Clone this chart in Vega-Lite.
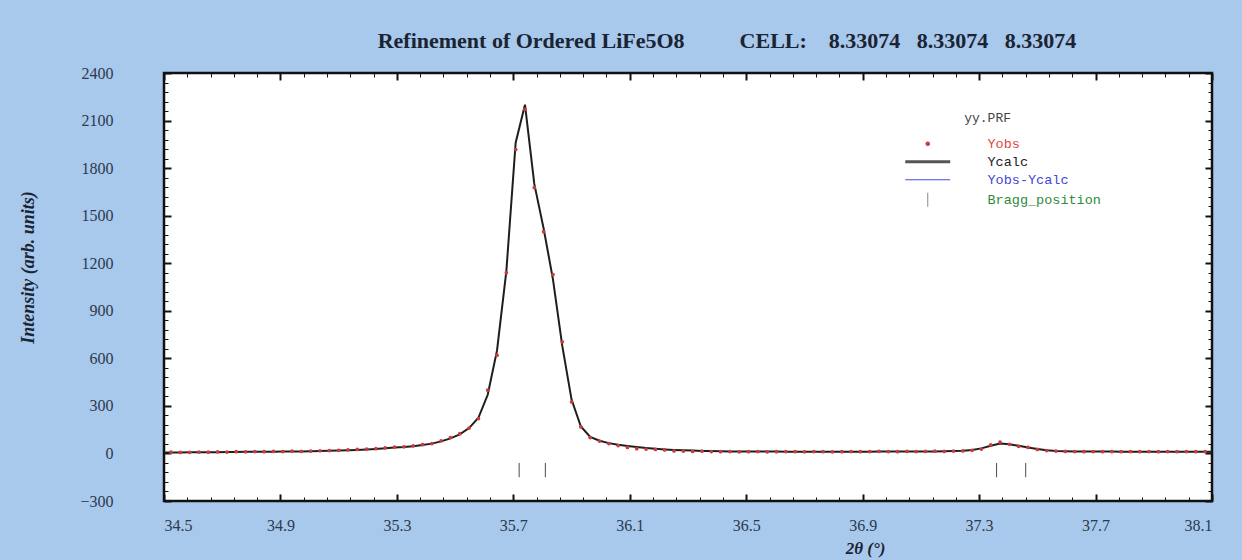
{
  "$schema": "https://vega.github.io/schema/vega-lite/v6.json",
  "width": 1048,
  "height": 428,
  "autosize": {"type": "none"},
  "padding": {"left": 164, "top": 73, "right": 30, "bottom": 59},
  "background": "#a8c8ec",
  "title": {
    "text": "Refinement of Ordered LiFe5O8\u00a0\u00a0\u00a0\u00a0\u00a0\u00a0\u00a0\u00a0\u00a0\u00a0CELL:\u00a0\u00a0\u00a0\u00a08.33074\u00a0\u00a0\u00a08.33074\u00a0\u00a0\u00a08.33074",
    "font": "Liberation Serif",
    "fontSize": 22,
    "fontWeight": "bold",
    "color": "#1a2433",
    "anchor": "middle",
    "frame": "group",
    "baseline": "alphabetic",
    "dx": 39,
    "dy": 27,
    "offset": 22
  },
  "datasets": {
    "profile": [
      {"x": 34.5, "obs": null, "calc": 6},
      {"x": 34.524, "obs": 8, "calc": 6},
      {"x": 34.556, "obs": 6, "calc": 6},
      {"x": 34.588, "obs": 7, "calc": 7},
      {"x": 34.62, "obs": 9, "calc": 7},
      {"x": 34.652, "obs": 8, "calc": 8},
      {"x": 34.684, "obs": 10, "calc": 8},
      {"x": 34.716, "obs": 9, "calc": 9},
      {"x": 34.748, "obs": 11, "calc": 9},
      {"x": 34.78, "obs": 10, "calc": 10},
      {"x": 34.812, "obs": 12, "calc": 10},
      {"x": 34.844, "obs": 11, "calc": 11},
      {"x": 34.876, "obs": 13, "calc": 11},
      {"x": 34.908, "obs": 12, "calc": 12},
      {"x": 34.94, "obs": 14, "calc": 13},
      {"x": 34.972, "obs": 13, "calc": 13},
      {"x": 35.004, "obs": 15, "calc": 14},
      {"x": 35.036, "obs": 17, "calc": 15},
      {"x": 35.068, "obs": 18, "calc": 17},
      {"x": 35.1, "obs": 20, "calc": 18},
      {"x": 35.132, "obs": 23, "calc": 20},
      {"x": 35.164, "obs": 25, "calc": 22},
      {"x": 35.196, "obs": 27, "calc": 25},
      {"x": 35.228, "obs": 30, "calc": 28},
      {"x": 35.26, "obs": 35, "calc": 32},
      {"x": 35.292, "obs": 40, "calc": 37},
      {"x": 35.324, "obs": 42, "calc": 40},
      {"x": 35.356, "obs": 48, "calc": 46},
      {"x": 35.388, "obs": 55, "calc": 53},
      {"x": 35.42, "obs": 62, "calc": 62},
      {"x": 35.452, "obs": 80, "calc": 76},
      {"x": 35.484, "obs": 100, "calc": 95},
      {"x": 35.516, "obs": 125, "calc": 120},
      {"x": 35.548, "obs": 160, "calc": 160},
      {"x": 35.58, "obs": 220, "calc": 225},
      {"x": 35.612, "obs": 400, "calc": 370},
      {"x": 35.644, "obs": 620, "calc": 650},
      {"x": 35.676, "obs": 1140, "calc": 1150},
      {"x": 35.708, "obs": 1917, "calc": 1960},
      {"x": 35.74, "obs": 2170, "calc": 2200},
      {"x": 35.772, "obs": 1677, "calc": 1700},
      {"x": 35.804, "obs": 1399, "calc": 1420},
      {"x": 35.836, "obs": 1128, "calc": 1100},
      {"x": 35.868, "obs": 704, "calc": 680},
      {"x": 35.9, "obs": 325, "calc": 340},
      {"x": 35.932, "obs": 167, "calc": 170},
      {"x": 35.964, "obs": 100, "calc": 105},
      {"x": 35.996, "obs": 78, "calc": 80},
      {"x": 36.028, "obs": 62, "calc": 65},
      {"x": 36.06, "obs": 50, "calc": 55},
      {"x": 36.092, "obs": 38, "calc": 47},
      {"x": 36.124, "obs": 30, "calc": 40},
      {"x": 36.156, "obs": 28, "calc": 34},
      {"x": 36.188, "obs": 25, "calc": 29},
      {"x": 36.22, "obs": 22, "calc": 25},
      {"x": 36.252, "obs": 16, "calc": 22},
      {"x": 36.284, "obs": 15, "calc": 20},
      {"x": 36.316, "obs": 13, "calc": 18},
      {"x": 36.348, "obs": 14, "calc": 16},
      {"x": 36.38, "obs": 12, "calc": 15},
      {"x": 36.412, "obs": 11, "calc": 14},
      {"x": 36.444, "obs": 12, "calc": 13},
      {"x": 36.476, "obs": 10, "calc": 13},
      {"x": 36.508, "obs": 11, "calc": 12},
      {"x": 36.54, "obs": 12, "calc": 12},
      {"x": 36.572, "obs": 10, "calc": 12},
      {"x": 36.604, "obs": 11, "calc": 12},
      {"x": 36.636, "obs": 12, "calc": 11},
      {"x": 36.668, "obs": 11, "calc": 11},
      {"x": 36.7, "obs": 10, "calc": 11},
      {"x": 36.732, "obs": 12, "calc": 11},
      {"x": 36.764, "obs": 11, "calc": 11},
      {"x": 36.796, "obs": 10, "calc": 11},
      {"x": 36.828, "obs": 11, "calc": 11},
      {"x": 36.86, "obs": 12, "calc": 11},
      {"x": 36.892, "obs": 11, "calc": 11},
      {"x": 36.924, "obs": 12, "calc": 11},
      {"x": 36.956, "obs": 13, "calc": 12},
      {"x": 36.988, "obs": 12, "calc": 12},
      {"x": 37.02, "obs": 11, "calc": 12},
      {"x": 37.052, "obs": 13, "calc": 12},
      {"x": 37.084, "obs": 12, "calc": 12},
      {"x": 37.116, "obs": 13, "calc": 13},
      {"x": 37.148, "obs": 14, "calc": 13},
      {"x": 37.18, "obs": 13, "calc": 14},
      {"x": 37.212, "obs": 15, "calc": 15},
      {"x": 37.244, "obs": 16, "calc": 17},
      {"x": 37.276, "obs": 20, "calc": 22},
      {"x": 37.308, "obs": 28, "calc": 32},
      {"x": 37.34, "obs": 54, "calc": 48},
      {"x": 37.372, "obs": 72, "calc": 62},
      {"x": 37.404, "obs": 58, "calc": 58},
      {"x": 37.436, "obs": 45, "calc": 48},
      {"x": 37.468, "obs": 38, "calc": 38},
      {"x": 37.5, "obs": 25, "calc": 28},
      {"x": 37.532, "obs": 18, "calc": 20},
      {"x": 37.564, "obs": 15, "calc": 16},
      {"x": 37.596, "obs": 13, "calc": 14},
      {"x": 37.628, "obs": 12, "calc": 13},
      {"x": 37.66, "obs": 11, "calc": 12},
      {"x": 37.692, "obs": 12, "calc": 12},
      {"x": 37.724, "obs": 11, "calc": 12},
      {"x": 37.756, "obs": 12, "calc": 12},
      {"x": 37.788, "obs": 11, "calc": 11},
      {"x": 37.82, "obs": 12, "calc": 11},
      {"x": 37.852, "obs": 11, "calc": 11},
      {"x": 37.884, "obs": 12, "calc": 11},
      {"x": 37.916, "obs": 11, "calc": 11},
      {"x": 37.948, "obs": 12, "calc": 11},
      {"x": 37.98, "obs": 11, "calc": 11},
      {"x": 38.012, "obs": 12, "calc": 11},
      {"x": 38.044, "obs": 11, "calc": 11},
      {"x": 38.076, "obs": 12, "calc": 11},
      {"x": 38.1, "obs": null, "calc": 11}
    ],
    "bragg": [
      {"pos": 35.72},
      {"pos": 35.81},
      {"pos": 37.36},
      {"pos": 37.46}
    ]
  },
  "layer": [
    {
      "data": {"name": "profile"},
      "mark": {"type": "line", "color": "#1e1e1e", "strokeWidth": 2},
      "encoding": {
        "x": {
          "field": "x", "type": "quantitative",
          "scale": {"domain": [34.5, 38.1], "nice": false, "zero": false},
          "axis": {
            "orient": "bottom", "domain": false,
            "values": [34.5, 34.9, 35.3, 35.7, 36.1, 36.5, 36.9, 37.3, 37.7, 38.1],
            "tickSize": -7, "tickWidth": 2,
            "labelDx": -15, "labelPadding": 23, "labelBaseline": "top",
            "title": "2θ (°)", "titleX": 701, "titleY": 47, "titleAlign": "center", "titleBaseline": "middle",
            "titleFontSize": 17, "titleFontStyle": "italic", "titleFontWeight": "bold"
          }
        },
        "y": {
          "field": "calc", "type": "quantitative",
          "scale": {"domain": [-300, 2400], "nice": false, "zero": false},
          "axis": {
            "orient": "left", "domain": false, "format": "d",
            "values": [-300, 0, 300, 600, 900, 1200, 1500, 1800, 2100, 2400],
            "tickSize": -7, "tickWidth": 2,
            "labelPadding": 58, "labelAlign": "right", "labelBaseline": "middle",
            "title": "Intensity (arb. units)", "titleX": -136, "titleY": 194, "titleAngle": -90, "titleAlign": "center", "titleBaseline": "middle",
            "titleFontSize": 18, "titleFontStyle": "italic", "titleFontWeight": "bold"
          }
        }
      }
    },
    {
      "data": {"name": "profile"},
      "mark": {"type": "point", "filled": true, "size": 14, "opacity": 1},
      "encoding": {
        "x": {
          "field": "x", "type": "quantitative",
          "axis": {
            "orient": "top", "labels": false, "title": null, "domain": false,
            "values": [34.5, 34.58, 34.66, 34.74, 34.82, 34.9, 34.98, 35.06, 35.14, 35.22, 35.3, 35.38, 35.46, 35.54, 35.62, 35.7, 35.78, 35.86, 35.94, 36.02, 36.1, 36.18, 36.26, 36.34, 36.42, 36.5, 36.58, 36.66, 36.74, 36.82, 36.9, 36.98, 37.06, 37.14, 37.22, 37.3, 37.38, 37.46, 37.54, 37.62, 37.7, 37.78, 37.86, 37.94, 38.02, 38.1],
            "tickSize": {"condition": {"test": "abs((datum.value-34.5)/0.4 - round((datum.value-34.5)/0.4)) < 0.01", "value": -7}, "value": -4},
            "tickWidth": {"condition": {"test": "abs((datum.value-34.5)/0.4 - round((datum.value-34.5)/0.4)) < 0.01", "value": 2}, "value": 1}
          }
        },
        "y": {
          "field": "obs", "type": "quantitative",
          "axis": {
            "orient": "right", "labels": false, "title": null, "domain": false,
            "values": [-300, -240, -180, -120, -60, 0, 60, 120, 180, 240, 300, 360, 420, 480, 540, 600, 660, 720, 780, 840, 900, 960, 1020, 1080, 1140, 1200, 1260, 1320, 1380, 1440, 1500, 1560, 1620, 1680, 1740, 1800, 1860, 1920, 1980, 2040, 2100, 2160, 2220, 2280, 2340, 2400],
            "tickSize": {"condition": {"test": "abs(datum.value/300 - round(datum.value/300)) < 0.01", "value": -7}, "value": -4},
            "tickWidth": {"condition": {"test": "abs(datum.value/300 - round(datum.value/300)) < 0.01", "value": 2}, "value": 1}
          }
        },
        "color": {
          "datum": "Yobs", "type": "nominal",
          "scale": {"domain": ["Yobs", "Ycalc", "Yobs-Ycalc", "Bragg_position"], "range": ["#cc3b3b", "#2a2a2a", "#3b3bd6", "#555555"]},
          "legend": {
            "orient": "none", "legendX": 757, "legendY": 39,
            "title": "yy.PRF\u00a0",
            "titleFont": "Liberation Mono", "titleFontSize": 13, "titleFontWeight": "normal", "titleColor": "#444444", "titlePadding": 12,
            "titleAnchor": "middle", "titleAlign": "right",
            "labelFont": "Liberation Mono", "labelFontSize": 13.5, "labelOffset": 53,
            "rowPadding": 3, "padding": 0,
            "symbolType": {"expr": "datum.value === 'Yobs' ? 'circle' : datum.value === 'Bragg_position' ? 'M0,-1L0,1' : 'stroke'"},
            "symbolSize": {"expr": "datum.value === 'Yobs' ? 14 : datum.value === 'Bragg_position' ? 196 : 2025"},
            "symbolStrokeWidth": {"expr": "datum.value === 'Ycalc' ? 3 : 1"},
            "symbolStrokeColor": {"expr": "datum.value === 'Yobs' ? '#cc3b3b' : datum.value === 'Ycalc' ? '#555555' : datum.value === 'Yobs-Ycalc' ? '#4a4ae0' : '#888888'"},
            "symbolOpacity": 1,
            "labelColor": {"expr": "datum.value === 'Yobs' ? '#e04545' : datum.value === 'Ycalc' ? '#222222' : datum.value === 'Yobs-Ycalc' ? '#4545dc' : '#2e8b3a'"}
          }
        }
      }
    },
    {
      "data": {"name": "bragg"},
      "mark": {"type": "rule", "color": "#4a4a4a", "strokeWidth": 1},
      "encoding": {
        "x": {
          "field": "pos", "type": "quantitative",
          "axis": {
            "orient": "bottom", "labels": false, "title": null, "domain": false,
            "values": [34.58, 34.66, 34.74, 34.82, 34.98, 35.06, 35.14, 35.22, 35.38, 35.46, 35.54, 35.62, 35.78, 35.86, 35.94, 36.02, 36.18, 36.26, 36.34, 36.42, 36.58, 36.66, 36.74, 36.82, 36.98, 37.06, 37.14, 37.22, 37.38, 37.46, 37.54, 37.62, 37.78, 37.86, 37.94, 38.02],
            "tickSize": -4, "tickWidth": 1
          }
        },
        "y": {
          "datum": -60, "type": "quantitative",
          "axis": {
            "orient": "left", "labels": false, "title": null, "domain": false,
            "values": [-240, -180, -120, -60, 60, 120, 180, 240, 360, 420, 480, 540, 660, 720, 780, 840, 960, 1020, 1080, 1140, 1260, 1320, 1380, 1440, 1560, 1620, 1680, 1740, 1860, 1920, 1980, 2040, 2160, 2220, 2280, 2340],
            "tickSize": -4, "tickWidth": 1
          }
        },
        "y2": {"datum": -150}
      }
    }
  ],
  "resolve": {"axis": {"x": "independent", "y": "independent"}},
  "config": {
    "view": {"fill": "white", "stroke": "#111111", "strokeWidth": 2.5},
    "axis": {
      "grid": false,
      "tickColor": "#111111",
      "labelFont": "Liberation Serif",
      "labelFontSize": 16,
      "labelColor": "#2b3a4e",
      "titleFont": "Liberation Serif",
      "titleColor": "#1a2433"
    }
  }
}
